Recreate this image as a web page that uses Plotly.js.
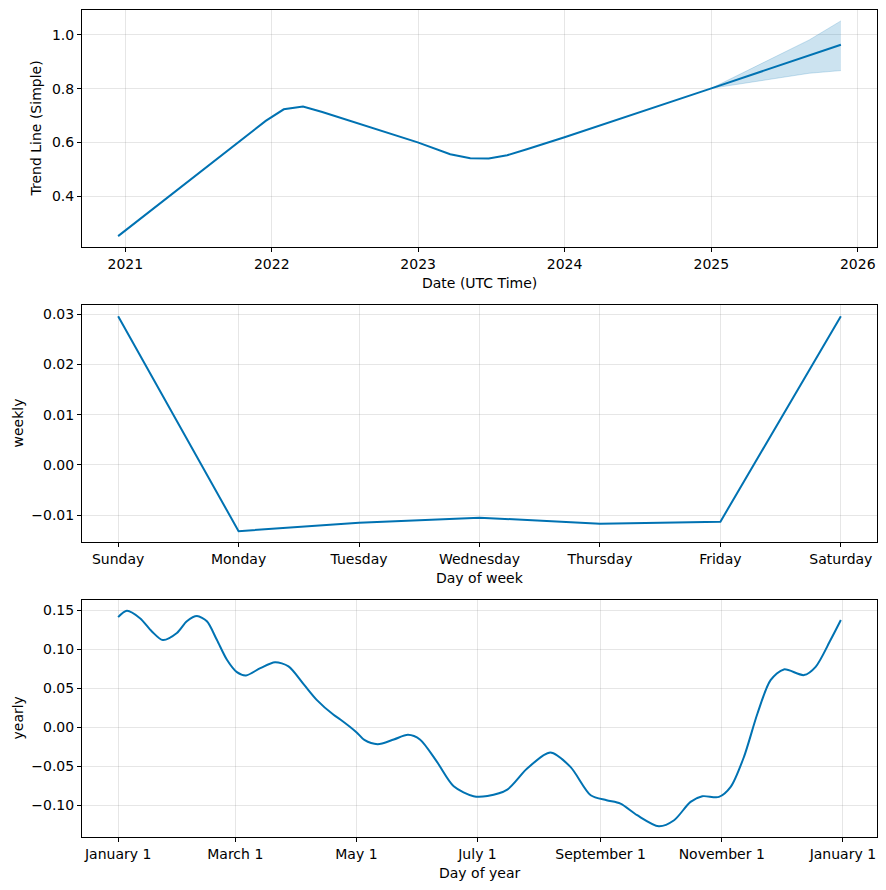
<!DOCTYPE html>
<html>
<head>
<meta charset="utf-8">
<script src="https://cdn.plot.ly/plotly-3.0.1.min.js"></script>
<style>
html,body{margin:0;padding:0;background:#fff;}
#chart{width:886px;height:890px;}
</style>
</head>
<body>
<div id="chart"></div>
<script>
// ---- Trend component ----
var trendDates = ['2020-12-14','2021-12-17','2022-01-31','2022-03-20','2022-05-07','2022-12-31','2023-03-22','2023-05-11','2023-06-26','2023-08-11','2023-09-29','2024-01-01','2025-01-01','2025-11-20'];
var trendValues = [0.251,0.680,0.723,0.733,0.713,0.600,0.556,0.541,0.540,0.552,0.574,0.619,0.801,0.963];

// ---- Trend uncertainty band (forecast period) ----
var bandDates = ['2025-01-01','2025-04-22','2025-09-02','2025-11-20'];
var bandUpper = [0.801,0.884,0.981,1.052];
var bandLower = [0.801,0.827,0.857,0.867];

// ---- Weekly seasonality ----
var weekDays = ['Sunday','Monday','Tuesday','Wednesday','Thursday','Friday','Saturday'];
var weeklyValues = [0.0296,-0.0132,-0.0115,-0.0105,-0.0117,-0.0113,0.0296];

// ---- Yearly seasonality (day offset from Jan 1) ----
var yearDays = [0,4.4,11,17,22.5,29.6,34.6,39.7,44.7,49.7,54.8,59.8,64.4,71.6,79,85.8,93.4,100,108.5,111.9,120,124,130.7,138.8,146,152,160.6,169,179,186,196,206,217.7,227.8,238,246,253,261.4,272.3,280,288.3,294.2,302.6,308.5,315.2,322,328.6,335.3,345.4,351.3,358.8,364];
var yearlyValues = [0.1414,0.1495,0.140,0.123,0.112,0.121,0.136,0.1427,0.136,0.1123,0.0867,0.0709,0.0667,0.076,0.0837,0.0782,0.0555,0.0354,0.0162,0.0103,-0.006,-0.016,-0.0214,-0.0154,-0.0094,-0.0154,-0.0441,-0.0753,-0.088,-0.0877,-0.0795,-0.0526,-0.0321,-0.0505,-0.0868,-0.0932,-0.0975,-0.1124,-0.1265,-0.1188,-0.0953,-0.0881,-0.0889,-0.0761,-0.0376,0.0179,0.0606,0.0744,0.0671,0.0777,0.112,0.1376];
var yearTickDates = ['2017-01-01','2017-03-01','2017-05-01','2017-07-01','2017-09-01','2017-11-01','2018-01-01'];
var yearTickLabels = ['January 1','March 1','May 1','July 1','September 1','November 1','January 1'];

var base = Date.UTC(2017,0,1);
var yearDates = yearDays.map(function(d){ return new Date(base + d*86400000).toISOString(); });

var blue = '#0072B2';
var bandFill = 'rgba(0,114,178,0.2)';
var gridC = 'rgba(128,128,128,0.2)';

var traces = [
  {x: bandDates, y: bandLower, xaxis:'x', yaxis:'y', mode:'lines', line:{color:bandFill, width:1}, hoverinfo:'skip', showlegend:false},
  {x: bandDates, y: bandUpper, xaxis:'x', yaxis:'y', mode:'lines', fill:'tonexty', fillcolor:bandFill, line:{color:bandFill, width:1}, hoverinfo:'skip', showlegend:false},
  {x: trendDates, y: trendValues, xaxis:'x', yaxis:'y', mode:'lines', line:{color:blue, width:2}, showlegend:false},
  {x: weekDays.map(function(_,i){return i;}), y: weeklyValues, xaxis:'x2', yaxis:'y2', mode:'lines', line:{color:blue, width:2}, showlegend:false},
  {x: yearDates, y: yearlyValues, xaxis:'x3', yaxis:'y3', mode:'lines', line:{color:blue, width:2, shape:'spline', smoothing:0.8}, showlegend:false}
];

var FS = 14;
var axisCommon = {
  showline:true, mirror:true, linecolor:'#000', linewidth:1,
  ticks:'outside', ticklen:4, tickwidth:1, tickcolor:'#000',
  showgrid:true, gridcolor:gridC, gridwidth:1, zeroline:false,
  tickfont:{family:'DejaVu Sans', size:FS, color:'#000'}
};
function ax(extra){ var o = {}; for (var k in axisCommon) o[k]=axisCommon[k]; for (var k2 in extra) o[k2]=extra[k2]; return o; }

var H = 827; // plot height in px
function py(p){ return (837 - p)/H; }
function px(p){ return (p - 82)/795; }

var layout = {
  width:886, height:890,
  margin:{l:82, r:9, t:10, b:53},
  paper_bgcolor:'#fff', plot_bgcolor:'#fff',
  font:{family:'DejaVu Sans', size:FS, color:'#000'},
  showlegend:false,
  xaxis: ax({type:'date', domain:[0,1], anchor:'y', range:['2020-09-15','2026-02-18'], dtick:'M12', tick0:'2021-01-01', tickformat:'%Y'}),
  yaxis: ax({domain:[py(247),1], anchor:'x', range:[0.2105,1.0925], dtick:0.2, tick0:0, tickformat:'.1f'}),
  xaxis2: ax({domain:[0,1], anchor:'y2', range:[-0.3,6.3], tickvals:[0,1,2,3,4,5,6], ticktext:weekDays}),
  yaxis2: ax({domain:[py(542),py(305)], anchor:'x2', range:[-0.01535,0.03185], dtick:0.01, tick0:0, tickformat:'.2f'}),
  xaxis3: ax({type:'date', domain:[0,1], anchor:'y3', range:[new Date(base-18.2*86400000).toISOString(), new Date(base+382.2*86400000).toISOString()], tickvals:yearTickDates, ticktext:yearTickLabels}),
  yaxis3: ax({domain:[0,py(600)], anchor:'x3', range:[-0.1403,0.1633], dtick:0.05, tick0:0, tickformat:'.2f'}),
  annotations:[
    {text:'Date (UTC Time)', xref:'paper', yref:'paper', x:px(479.5), y:py(282.5), xanchor:'center', yanchor:'middle', showarrow:false, font:{size:FS}},
    {text:'Day of week', xref:'paper', yref:'paper', x:px(479.5), y:py(577.5), xanchor:'center', yanchor:'middle', showarrow:false, font:{size:FS}},
    {text:'Day of year', xref:'paper', yref:'paper', x:px(479.5), y:py(872.5), xanchor:'center', yanchor:'middle', showarrow:false, font:{size:FS}},
    {text:'Trend Line (Simple)', xref:'paper', yref:'paper', x:px(36), y:py(128.5), xanchor:'center', yanchor:'middle', textangle:-90, showarrow:false, font:{size:FS}},
    {text:'weekly', xref:'paper', yref:'paper', x:px(17), y:py(423.5), xanchor:'center', yanchor:'middle', textangle:-90, showarrow:false, font:{size:FS}},
    {text:'yearly', xref:'paper', yref:'paper', x:px(17), y:py(718.5), xanchor:'center', yanchor:'middle', textangle:-90, showarrow:false, font:{size:FS}}
  ]
};

Plotly.newPlot('chart', traces, layout, {displayModeBar:false, staticPlot:true});
</script>
</body>
</html>
